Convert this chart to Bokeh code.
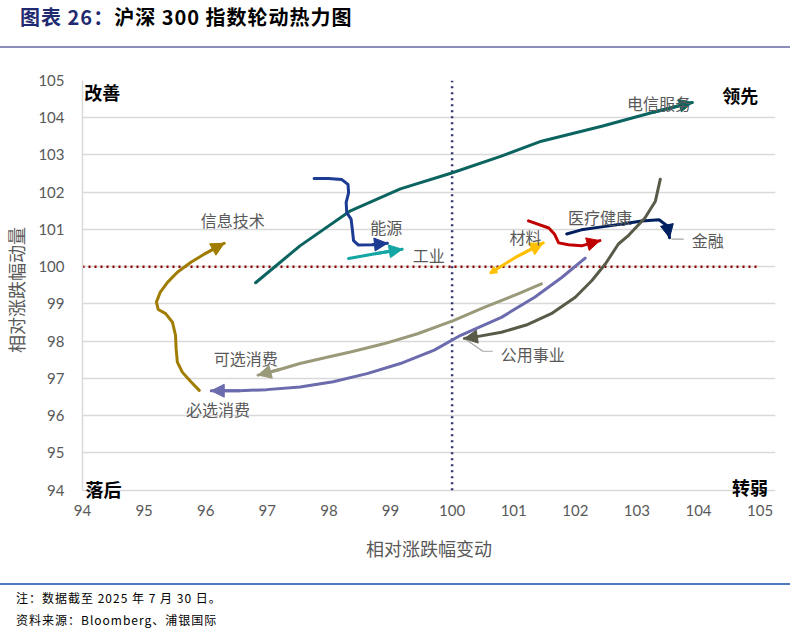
from bokeh.plotting import figure
from bokeh.models import Arrow, NormalHead, OpenHead, Label, Div, FixedTicker, Range1d
from bokeh.layouts import column
from bokeh.embed import file_html
from bokeh.resources import INLINE

# ---------------- data ----------------
axis_ticks = list(range(94, 106))
axis_min, axis_max = 94, 105

telecom_x = [96.81, 97.53, 98.35, 99.16, 99.98, 100.80, 101.45, 102.43, 103.25, 103.90]
telecom_y = [99.57, 100.56, 101.50, 102.09, 102.51, 102.97, 103.37, 103.77, 104.14, 104.41]

infotech_x = [95.895, 95.76, 95.62, 95.54, 95.52, 95.51, 95.46, 95.35, 95.23, 95.20,
              95.26, 95.38, 95.54, 95.76, 95.98, 96.30]
infotech_y = [96.68, 96.91, 97.17, 97.44, 97.80, 98.16, 98.51, 98.74, 98.85, 99.05,
              99.31, 99.58, 99.85, 100.12, 100.34, 100.63]

energy_x = [97.76, 97.99, 98.21, 98.31, 98.32, 98.28, 98.29, 98.36, 98.38, 98.40, 98.48, 98.70, 98.95]
energy_y = [102.37, 102.37, 102.34, 102.21, 101.99, 101.72, 101.45, 101.28, 101.01, 100.70, 100.58, 100.59, 100.63]

industry_x = [98.32, 98.75, 99.19]
industry_y = [100.22, 100.35, 100.47]

materials_x = [100.63, 101.04, 101.48]
materials_y = [99.84, 100.26, 100.64]

health_x = [101.24, 101.57, 101.66, 101.73, 101.89, 102.10, 102.27, 102.40]
health_y = [101.23, 101.04, 100.88, 100.64, 100.59, 100.56, 100.64, 100.70]

finance_x = [101.86, 102.10, 102.43, 102.76, 103.08, 103.36, 103.49, 103.53]
finance_y = [100.88, 100.99, 101.07, 101.15, 101.23, 101.26, 101.10, 100.78]

utilities_x = [103.38, 103.30, 103.13, 102.87, 102.70, 102.49, 102.27, 102.00, 101.61,
               101.23, 100.80, 100.36, 100.20]
utilities_y = [102.35, 101.76, 101.31, 100.85, 100.61, 100.08, 99.63, 99.18, 98.74,
               98.45, 98.24, 98.11, 98.07]

staples_x = [102.16, 101.78, 101.34, 100.80, 100.14, 99.71, 99.16, 98.62, 98.07,
             97.53, 96.99, 96.55, 96.09]
staples_y = [100.23, 99.71, 99.18, 98.64, 98.16, 97.76, 97.40, 97.13, 96.91,
             96.77, 96.70, 96.67, 96.67]

discretionary_x = [101.45, 101.07, 100.52, 100.03, 99.44, 98.89, 98.35, 97.97, 97.53, 97.20, 96.85]
discretionary_y = [99.54, 99.27, 98.91, 98.56, 98.20, 97.93, 97.71, 97.57, 97.40, 97.24, 97.09]

sector_names = ["电信服务", "信息技术", "能源", "工业", "材料", "医疗健康", "金融", "公用事业", "必选消费", "可选消费"]
label_x = [103.36, 96.44, 98.93, 99.62, 101.19, 102.40, 104.15, 101.31, 96.20, 96.65]
label_y = [104.40, 101.25, 101.06, 100.32, 100.80, 101.33, 100.72, 97.67, 96.18, 97.56]

corner_names = ["改善", "领先", "落后", "转弱"]
ref_level = 100

# ---------------- styles ----------------
colors = ["#0B6460", "#A07C00", "#1C3C94", "#14A5A5", "#FFC000",
          "#C00000", "#002060", "#5A5A48", "#6B6BAE", "#9A9A7A"]
series = [(telecom_x, telecom_y), (infotech_x, infotech_y), (energy_x, energy_y),
          (industry_x, industry_y), (materials_x, materials_y), (health_x, health_y),
          (finance_x, finance_y), (utilities_x, utilities_y), (staples_x, staples_y),
          (discretionary_x, discretionary_y)]

CJK = "Noto Sans CJK SC"
GRAY = "#595959"

# frame is slightly larger than the axis range so corner texts are not clipped
p = figure(width=790, height=533, x_range=Range1d(94, 105.25), y_range=Range1d(93.75, 105),
           output_backend="svg", toolbar_location=None,
           min_border_left=81, min_border_right=15, min_border_top=30, min_border_bottom=84)
p.outline_line_color = None
p.background_fill_color = "white"
p.border_fill_color = "white"

p.xgrid.visible = False
p.ygrid.grid_line_color = "#D9D9D9"
p.ygrid.grid_line_width = 1.3
p.ygrid.bounds = (axis_min, axis_max)

for ax in (p.xaxis[0], p.yaxis[0]):
    ax.ticker = FixedTicker(ticks=axis_ticks)
    ax.major_tick_line_color = None
    ax.minor_tick_line_color = None
    ax.major_tick_out = 0
    ax.major_tick_in = 0
    ax.major_label_text_font = "Lato"
    ax.major_label_text_font_size = "15px"
    ax.major_label_text_color = GRAY
    ax.axis_label_text_font = CJK
    ax.axis_label_text_font_size = "18px"
    ax.axis_label_text_font_style = "normal"
    ax.axis_label_text_color = GRAY

p.xaxis.axis_line_color = None
p.yaxis.axis_line_color = "#D9D9D9"
p.yaxis.axis_line_width = 1.5
p.yaxis.bounds = (axis_min, axis_max)

p.xaxis.axis_label = "相对涨跌幅变动"
p.yaxis.axis_label = "相对涨跌幅动量"
p.xaxis.major_label_standoff = 5
p.xaxis.axis_label_standoff = 16
p.yaxis.major_label_standoff = 18
p.yaxis.axis_label_standoff = 6

# dotted reference lines (100 / 100)
p.line([ref_level, ref_level], [axis_min, axis_max], line_color="#33336E",
       line_width=2.5, line_dash="2 4")
p.line([axis_min, axis_max], [ref_level, ref_level], line_color="#8B0000",
       line_width=2.5, line_dash="2 4")

for (xs, ys), c in zip(series, colors):
    p.line(xs, ys, line_color=c, line_width=3, line_join="round", line_cap="round")
    p.add_layout(Arrow(end=NormalHead(size=13, fill_color=c, line_color=c, line_width=1),
                       x_start=xs[-2], y_start=ys[-2], x_end=xs[-1], y_end=ys[-1],
                       line_color=c, line_width=3))

# small hook at start of 材料
p.add_layout(Arrow(end=OpenHead(size=6, line_color=colors[4], line_width=2.5),
                   x_start=materials_x[1], y_start=materials_y[1],
                   x_end=materials_x[0], y_end=materials_y[0],
                   line_color=colors[4], line_width=0, line_alpha=0))

# leader lines
p.line([utilities_x[-1], 100.50, 100.66], [utilities_y[-1], 97.73, 97.73], line_color="#A6A6A6", line_width=1.2)
p.line([finance_x[-1] + 0.03, 103.76], [100.74, 100.74], line_color="#A6A6A6", line_width=1.2)

for name, lx, ly in zip(sector_names, label_x, label_y):
    p.add_layout(Label(x=lx, y=ly, text=name, text_font=CJK, text_font_size="16px",
                       text_color=GRAY, text_align="center", text_baseline="middle"))

corner_pos = [(94.03, 104.70, "left"), (104.97, 104.62, "right"),
              (94.05, 94.04, "left"), (105.13, 94.08, "right")]
for name, (cx, cy, al) in zip(corner_names, corner_pos):
    p.add_layout(Label(x=cx, y=cy, text=name, text_font=CJK, text_font_size="18px",
                       text_font_style="bold", text_color="#000000", text_align=al,
                       text_baseline="middle"))

title = Div(text=(
    '<div style="width:790px;height:48px;border-bottom:2px solid #8C8CB8;position:relative;'
    'font-family:\'Noto Sans CJK SC\';">'
    '<div style="position:absolute;left:20px;top:3px;font-size:20px;line-height:28px;font-weight:bold;'
    'letter-spacing:1px;white-space:nowrap;">'
    '<span style="color:#1F2A70;">图表 26：</span>'
    '<span style="color:#000000;">沪深 300 指数轮动热力图</span></div></div>'),
    width=790, height=50, margin=(0, 0, 0, 0))

footer = Div(text=(
    '<div style="width:790px;height:48px;border-top:2px solid #4F7AC0;overflow:hidden;'
    'font-family:\'Noto Sans CJK SC\';font-size:12px;color:#000000;line-height:22px;padding-top:2px;'
    'padding-left:16px;letter-spacing:1px;box-sizing:border-box;">'
    '注：数据截至 2025 年 7 月 30 日。<br>资料来源：Bloomberg、浦银国际</div>'),
    width=790, height=48, margin=(0, 0, 0, 0))

layout = column(title, p, footer, spacing=0)
open("out.html", "w").write(file_html(layout, INLINE))
